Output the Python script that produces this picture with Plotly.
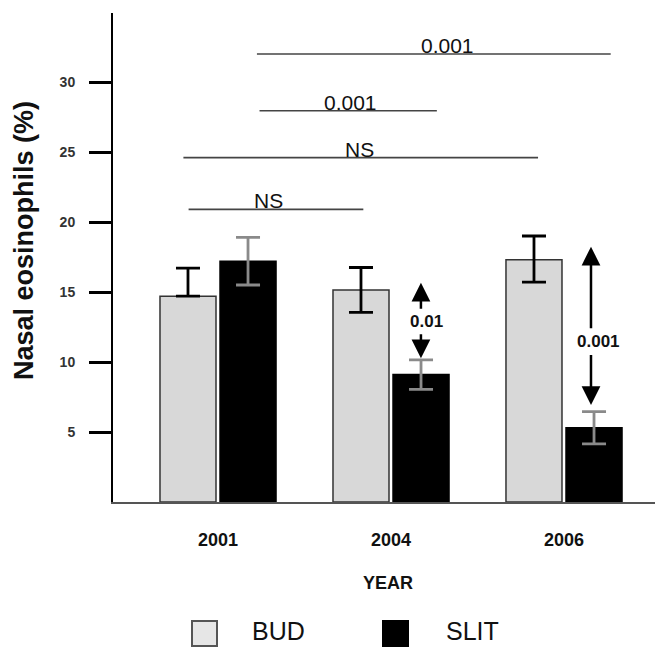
import plotly.graph_objects as go

# ---------------- data ----------------
years = ["2001", "2004", "2006"]
series_names = ["BUD", "SLIT"]
bud_mean = [14.7, 15.15, 17.3]
bud_err_plus = [2.0, 1.6, 1.7]
bud_err_minus = [0.0, 1.6, 1.6]
slit_mean = [17.2, 9.1, 5.3]
slit_err = [1.7, 1.05, 1.15]

y_tick_vals = [5, 10, 15, 20, 25, 30]

# between-year comparisons (brackets)
sig_labels = ["NS", "NS", "0.001", "0.001"]
sig_x0 = [-0.17, -0.2, 0.24, 0.225]
sig_x1 = [0.84, 1.85, 1.265, 2.27]
sig_y = [20.9, 24.6, 27.95, 32.0]
sig_text_x = [0.29, 0.815, 0.763, 1.329]

# within-year comparisons (double arrows)
arrow_labels = ["0.01", "0.001"]
arrow_x = [1.173, 2.156]
arrow_up_from = [13.7, 12.3]
arrow_up_to = [15.66, 18.24]
arrow_down_from = [12.09, 10.6]
arrow_down_to = [10.26, 6.93]
arrow_label_x = [1.208, 2.202]
arrow_label_y = [12.88, 11.45]

# ---------------- layout constants ----------------
W, H = 659, 648
L, T, R, B = 113, 13, 4, 146
PW, PH = W - L - R, H - T - B
FONT = "Arial, Liberation Sans, sans-serif"


def pxx(p):
    return (p - L) / PW


def pxy(p):
    return (T + PH - p) / PH


fig = go.Figure()
fig.add_trace(go.Bar(
    x=years, y=bud_mean, name=series_names[0],
    marker=dict(color="#d8d8d8", line=dict(color="#333333", width=1.5)),
    error_y=dict(type="data", symmetric=False, array=bud_err_plus,
                 arrayminus=bud_err_minus, color="black", thickness=2.8, width=12),
    showlegend=False,
))
fig.add_trace(go.Bar(
    x=years, y=slit_mean, name=series_names[1],
    marker=dict(color="black", line=dict(color="black", width=1.5)),
    error_y=dict(type="data", array=slit_err, color="#8a8a8a", thickness=2.8, width=12),
    showlegend=False,
))

shapes = []
annotations = []
for lab, x0, x1, y, tx in zip(sig_labels, sig_x0, sig_x1, sig_y, sig_text_x):
    shapes.append(dict(type="line", xref="x", yref="y", x0=x0, x1=x1, y0=y, y1=y,
                       line=dict(color="#444444", width=1.6)))
    annotations.append(dict(x=tx, y=y, xref="x", yref="y", text=lab, showarrow=False,
                            xanchor="center", yanchor="bottom", yshift=-5,
                            font=dict(family=FONT, size=21, color="#111111")))

for lab, x, uf, ut, df, dt, lx, ly in zip(arrow_labels, arrow_x, arrow_up_from, arrow_up_to,
                                         arrow_down_from, arrow_down_to,
                                         arrow_label_x, arrow_label_y):
    for frm, to in ((uf, ut), (df, dt)):
        annotations.append(dict(x=x, y=to, ax=x, ay=frm, xref="x", yref="y",
                                axref="x", ayref="y", text="", showarrow=True,
                                arrowhead=2, arrowsize=1.5, arrowwidth=2.5,
                                arrowcolor="black"))
    annotations.append(dict(x=lx, y=ly, xref="x", yref="y", text=f"<b>{lab}</b>",
                            showarrow=False, xanchor="center", yanchor="middle",
                            font=dict(family=FONT, size=17, color="#111111")))

# axis titles
annotations.append(dict(x=pxx(24), y=pxy(241), xref="paper", yref="paper",
                        text="<b>Nasal eosinophils (%)</b>", textangle=-90,
                        showarrow=False, xanchor="center", yanchor="middle",
                        font=dict(family=FONT, size=27, color="#111111")))
annotations.append(dict(x=pxx(388), y=pxy(583), xref="paper", yref="paper",
                        text="<b>YEAR</b>", showarrow=False,
                        xanchor="center", yanchor="middle",
                        font=dict(family=FONT, size=18, color="#111111")))

# legend (drawn manually to match the large swatches)
legend_boxes = [(192, "#e6e6e6", "#555555"), (383, "black", "black")]
legend_text_x = [250, 444]
for (bx, fill, edge), name, tx in zip(legend_boxes, series_names, legend_text_x):
    shapes.append(dict(type="rect", xref="paper", yref="paper",
                       x0=pxx(bx), x1=pxx(bx + 25), y0=pxy(646), y1=pxy(621),
                       fillcolor=fill, line=dict(color=edge, width=2)))
    annotations.append(dict(x=pxx(tx), y=pxy(631), xref="paper", yref="paper",
                            text=name, showarrow=False, xanchor="left", yanchor="middle",
                            font=dict(family=FONT, size=25, color="#111111")))

fig.update_layout(
    width=W, height=H,
    margin=dict(l=L, r=R, t=T, b=B, pad=0),
    paper_bgcolor="white", plot_bgcolor="white",
    barmode="group", bargap=0.306, bargroupgap=0.067,
    shapes=shapes, annotations=annotations,
    showlegend=False,
)
fig.update_xaxes(
    type="category", range=[-0.607, 2.526],
    showline=True, linecolor="#555555", linewidth=2,
    ticks="", showgrid=False, zeroline=False,
    tickfont=dict(family=FONT, size=18, color="#111111"),
    ticklabelstandoff=20,
    tickvals=years, ticktext=[f"<b>{y}</b>" for y in years],
)
fig.update_yaxes(
    range=[0, 34.93], tickvals=y_tick_vals,
    showline=True, linecolor="black", linewidth=2,
    ticks="outside", ticklen=22, tickwidth=2.5, tickcolor="black",
    showgrid=False, zeroline=False,
    tickfont=dict(family=FONT, size=14, color="#333333"),
    ticktext=[f"<b>{v}</b>" for v in y_tick_vals],
    ticklabelstandoff=11,
)

fig.write_html("out.html")
